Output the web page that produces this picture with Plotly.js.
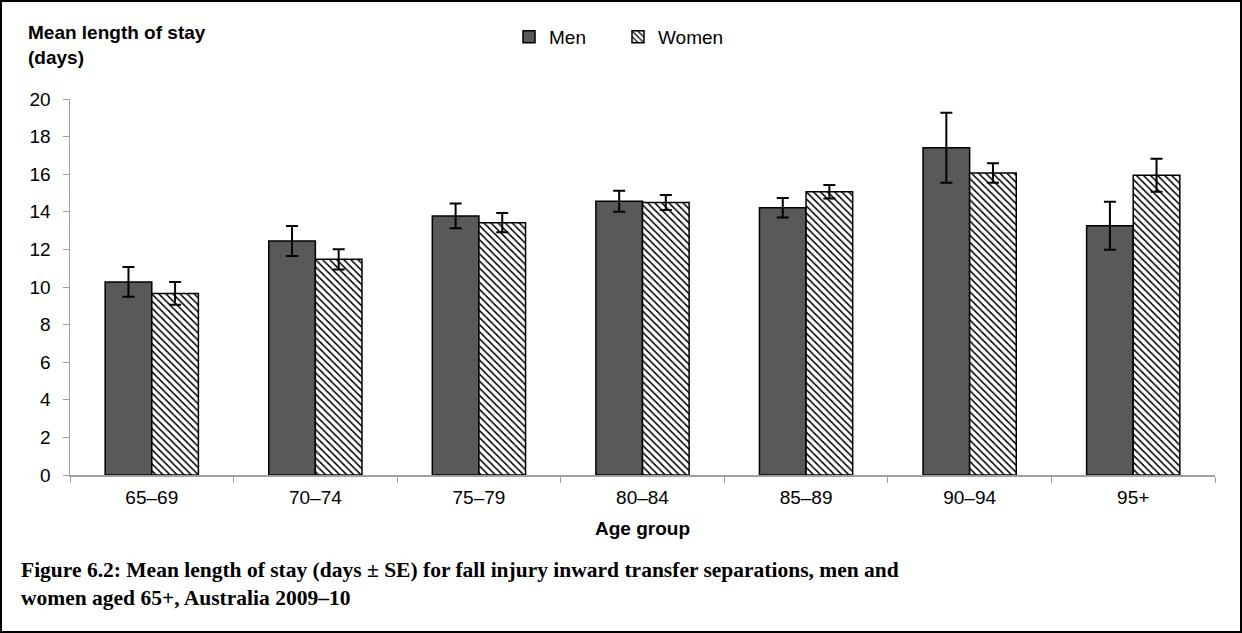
<!DOCTYPE html>
<html>
<head>
<meta charset="utf-8">
<script src="https://cdn.plot.ly/plotly-3.0.1.min.js"></script>
<style>
  html, body { margin: 0; padding: 0; background: #fff; }
  #frame { width: 1242px; height: 633px; box-sizing: border-box; border: 2px solid #000; overflow: hidden; }
  #chart { width: 1238px; height: 629px; }
</style>
</head>
<body>
<div id="frame"><div id="chart"></div></div>
<script>
const categories = ["65–69", "70–74", "75–79", "80–84", "85–89", "90–94", "95+"];
const menMean = [10.27, 12.45, 13.78, 14.56, 14.22, 17.41, 13.26];
const menSE = [0.79, 0.80, 0.66, 0.56, 0.52, 1.86, 1.28];
const womenMean = [9.66, 11.47, 13.42, 14.50, 15.07, 16.06, 15.94];
const womenSE = [0.60, 0.54, 0.51, 0.40, 0.36, 0.52, 0.88];
const yTicks = [0, 2, 4, 6, 8, 10, 12, 14, 16, 18, 20];

const W = 1238, H = 629;
const M = { l: 68, r: 25, t: 97, b: 156 };
const plotW = W - M.l - M.r, plotH = H - M.t - M.b;
const px = x => (x - 2 - M.l) / plotW;
const py = y => (H - M.b - (y - 2)) / plotH;

const FONT = "Liberation Sans, Arial, sans-serif";
const FS = 19;

const traces = [
  {
    type: "bar", name: "Men", x: categories, y: menMean,
    marker: { color: "#595959", line: { color: "#000", width: 1.5 } },
    error_y: { type: "data", array: menSE, visible: true, color: "#000", thickness: 2, width: 6 }
  },
  {
    type: "bar", name: "Women", x: categories, y: womenMean,
    marker: { color: "#fff", line: { color: "#000", width: 1.5 },
      pattern: { shape: "\\", fgcolor: "#000", bgcolor: "#fff", size: 5, solidity: 0.3 } },
    error_y: { type: "data", array: womenSE, visible: true, color: "#000", thickness: 2, width: 6 }
  }
];

const layout = {
  width: W, height: H,
  margin: M,
  paper_bgcolor: "#fff", plot_bgcolor: "#fff",
  font: { family: FONT, size: FS, color: "#000" },
  barmode: "group", bargap: 0.43, bargroupgap: 0,
  showlegend: true,
  legend: {
    orientation: "h", x: px(509), xanchor: "left", y: py(18), yanchor: "top",
    font: { family: FONT, size: FS, color: "#000" }, bgcolor: "rgba(0,0,0,0)",
    traceorder: "normal", entrywidth: 64, entrywidthmode: "pixels"
  },
  xaxis: {
    type: "category", showline: true, linecolor: "#a0a0a0", linewidth: 1.5,
    ticks: "outside", tickson: "boundaries", ticklen: 6, tickcolor: "#a0a0a0",
    showgrid: false, zeroline: false, ticklabelstandoff: 5,
    tickfont: { family: FONT, size: FS, color: "#000" },
    title: { text: "<b>Age group</b>", font: { family: FONT, size: FS, color: "#000" }, standoff: 14 }
  },
  yaxis: {
    range: [0, 20], tickvals: yTicks, showline: true, linecolor: "#a0a0a0", linewidth: 1.5,
    ticks: "outside", ticklen: 6, tickcolor: "#a0a0a0", showgrid: false, zeroline: false,
    tickfont: { family: FONT, size: FS, color: "#000" }, ticklabelstandoff: 8
  },
  annotations: [
    { xref: "paper", yref: "paper", x: px(26), y: py(20), xanchor: "left", yanchor: "top", align: "left",
      showarrow: false, text: "<b>Mean length of stay<br>(days)</b>",
      font: { family: FONT, size: FS, color: "#000" } },
    { xref: "paper", yref: "paper", x: px(19), y: py(556), xanchor: "left", yanchor: "top", align: "left",
      showarrow: false,
      text: "<b>Figure 6.2: Mean length of stay (days ± SE) for fall injury inward transfer separations, men and<br>women aged 65+, Australia 2009–10</b>",
      font: { family: "Liberation Serif, Times New Roman, serif", size: 21.5, color: "#000" } }
  ]
};

Plotly.newPlot("chart", traces, layout, { displayModeBar: false, staticPlot: true });
</script>
</body>
</html>
